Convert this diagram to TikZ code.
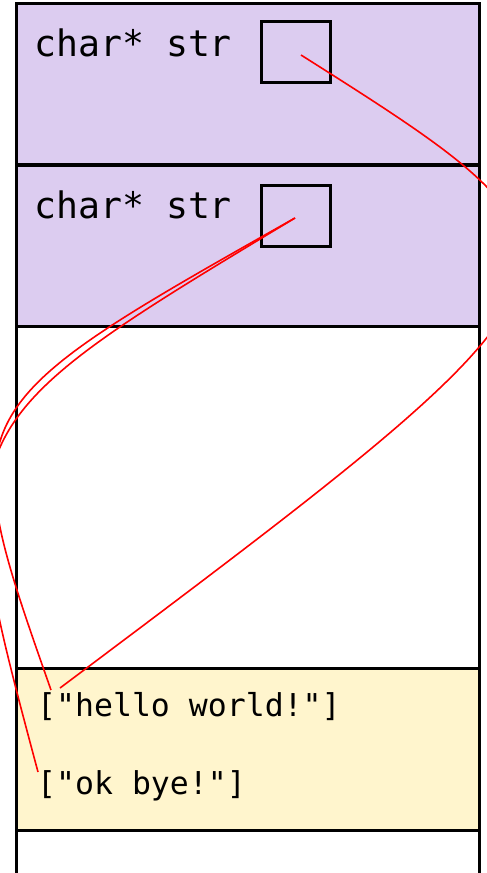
\documentclass[tikz,border=0pt]{standalone}
\usepackage{fontspec}
\setmonofont{DejaVu Sans Mono}
\definecolor{stackpurple}{RGB}{220,204,240}
\definecolor{heapyellow}{RGB}{255,245,205}
\begin{document}
\begin{tikzpicture}[x=1pt,y=-1pt,
  frameline/.style={line width=3.4pt},
  cellbox/.style={draw, line width=3.4pt, minimum width=69pt, minimum height=61pt, inner sep=0pt},
  biglbl/.style={anchor=base west, inner sep=0pt, font=\ttfamily\fontsize{36.5}{40}\selectfont},
  heaplbl/.style={anchor=base west, inner sep=0pt, font=\ttfamily\fontsize{31.5}{36}\selectfont},
  ptr/.style={draw=red, line width=1.6pt}]
\useasboundingbox (0,0) rectangle (487,873);
\clip (0,0) rectangle (487,873);
\fill[white] (0,0) rectangle (487,873);
% regions
\fill[stackpurple] (16.5,3.5) rectangle (479.5,326.7);
\fill[heapyellow] (16.5,668.3) rectangle (479.5,830.7);
\draw[frameline] (16.5,880) -- (16.5,3.5) -- (479.5,3.5) -- (479.5,880);
\draw[frameline] (16.5,165) -- (479.5,165);
\draw[frameline] (16.5,326.7) -- (479.5,326.7);
\draw[frameline] (16.5,668.3) -- (479.5,668.3);
\draw[frameline] (16.5,830.7) -- (479.5,830.7);
% stack cells
\node[biglbl] (lbl1) at (34,56.7) {char* str};
\node[cellbox] (box1) at (296,52) {};
\node[biglbl] (lbl2) at (34,218.5) {char* str};
\node[cellbox] (box2) at (296,216) {};
% heap
\node[heaplbl] (hello) at (37,716.7) {["hello world!"]};
\node[heaplbl] (okbye) at (37,794) {["ok bye!"]};
% pointer ends
\coordinate (s1) at (301,55);
\coordinate (s2) at (295,218);
\coordinate (e1) at (60,688);
\coordinate (e2) at (51,690);
\coordinate (e3) at (38,772);
\draw[ptr] (s1) .. controls (628,262) .. (e1);
\draw[ptr] (s2) .. controls (-47,411) .. (e2);
\draw[ptr] (s2) .. controls (-54,428) .. (e3);
\end{tikzpicture}
\end{document}
